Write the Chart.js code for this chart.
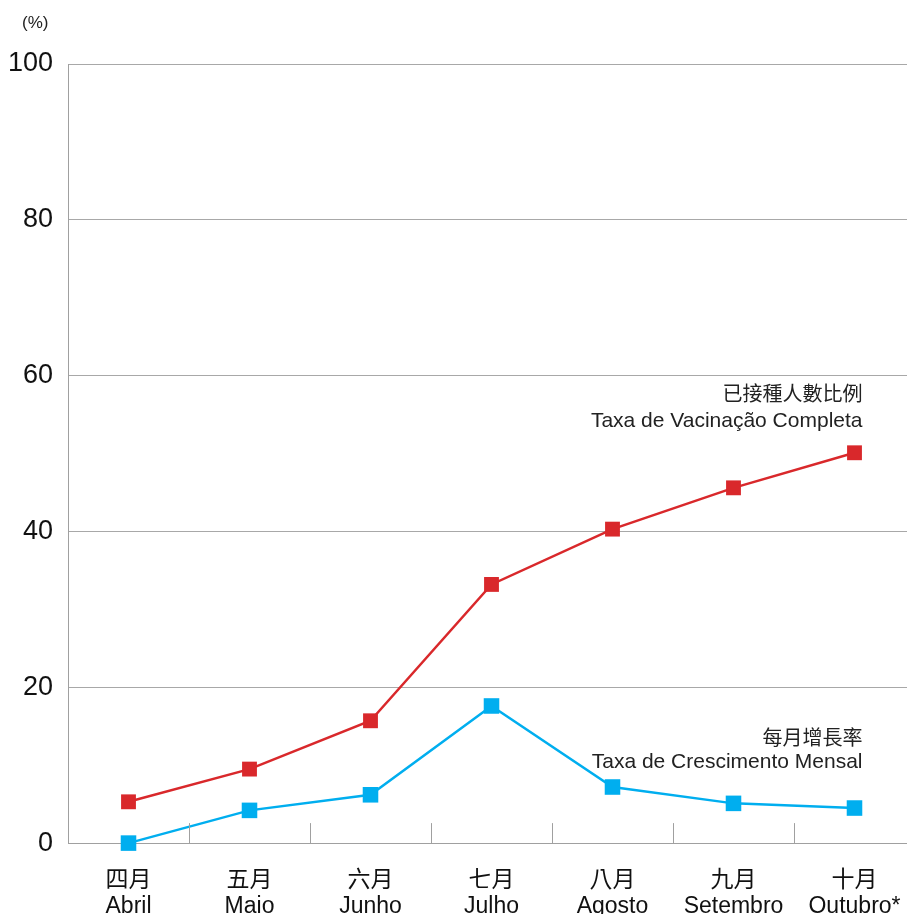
<!DOCTYPE html>
<html>
<head>
<meta charset="utf-8">
<script src="https://cdn.jsdelivr.net/npm/chart.js@4.4.0/dist/chart.umd.min.js"></script>
<style>
  html, body { margin: 0; padding: 0; background: #fff; overflow: hidden; }
  #wrap { width: 926px; height: 936px; position: relative; }
</style>
</head>
<body>
<div id="wrap"><canvas id="vacChart"></canvas></div>
<script>
// month labels (Chinese / Portuguese)
var months = [
  ['四月', 'Abril'],
  ['五月', 'Maio'],
  ['六月', 'Junho'],
  ['七月', 'Julho'],
  ['八月', 'Agosto'],
  ['九月', 'Setembro'],
  ['十月', 'Outubro*']
];
// % fully vaccinated
var fullRate = [5.3, 9.5, 15.7, 33.2, 40.3, 45.6, 50.1];
// monthly growth %
var growthRate = [0, 4.2, 6.2, 17.6, 7.2, 5.1, 4.5];
var yTicks = [0, 20, 40, 60, 80, 100];

var redColor = '#d9282b';
var blueColor = '#00aeef';
var latin = "'Liberation Sans', 'Noto Sans CJK TC', sans-serif";

// short separators between months + series names + unit
var extrasPlugin = {
  id: 'extras',
  afterDraw: function (chart) {
    var ctx = chart.ctx;
    var x = chart.scales.x, y = chart.scales.y;
    var area = chart.chartArea;
    ctx.save();
    ctx.strokeStyle = '#a0a0a0';
    ctx.lineWidth = 1;
    for (var i = 0; i < months.length - 1; i++) {
      var px = Math.round((x.getPixelForValue(i) + x.getPixelForValue(i + 1)) / 2) + 0.5;
      ctx.beginPath();
      ctx.moveTo(px, area.bottom);
      ctx.lineTo(px, area.bottom - 20);
      ctx.stroke();
    }
    // series names, right aligned to last marker
    var last = months.length - 1;
    var rx = x.getPixelForValue(last) + 8;
    ctx.fillStyle = '#222';
    ctx.textAlign = 'right';
    ctx.textBaseline = 'middle';
    ctx.font = "20px 'Noto Sans CJK TC', sans-serif";
    ctx.fillText('已接種人數比例', rx, y.getPixelForValue(fullRate[last]) - 59);
    ctx.fillText('每月增長率', rx, y.getPixelForValue(growthRate[last]) - 71);
    ctx.font = "21px " + latin;
    ctx.fillText('Taxa de Vacinação Completa', rx, y.getPixelForValue(fullRate[last]) - 32);
    ctx.fillText('Taxa de Crescimento Mensal', rx, y.getPixelForValue(growthRate[last]) - 46);
    // unit
    ctx.textAlign = 'left';
    ctx.font = "17px " + latin;
    ctx.fillText('(%)', 22, 23);
    ctx.restore();
  }
};

var ctx = document.getElementById('vacChart').getContext('2d');
var chart = new Chart(ctx, {
  type: 'line',
  data: {
    labels: months,
    datasets: [{
      label: 'Taxa de Vacinação Completa',
      data: fullRate,
      borderColor: redColor,
      backgroundColor: redColor,
      borderWidth: 2.5,
      pointStyle: 'rect',
      pointRadius: 10.5,
      pointHoverRadius: 10.5,
      pointBorderWidth: 0,
      tension: 0,
      clip: false
    }, {
      label: 'Taxa de Crescimento Mensal',
      data: growthRate,
      borderColor: blueColor,
      backgroundColor: blueColor,
      borderWidth: 2.5,
      pointStyle: 'rect',
      pointRadius: 11,
      pointHoverRadius: 11,
      pointBorderWidth: 0,
      tension: 0,
      clip: false
    }]
  },
  options: {
    responsive: true,
    maintainAspectRatio: false,
    animation: false,
    layout: { padding: { top: 64, left: 0, right: 0, bottom: 0 } },
    plugins: {
      legend: { display: false },
      tooltip: { enabled: false }
    },
    scales: {
      x: {
        offset: true,
        grid: { display: false },
        border: { display: true, color: '#a0a0a0', width: 1 },
        ticks: {
          color: '#111',
          font: { family: latin, size: 23, lineHeight: 1.15 },
          padding: 16,
          maxRotation: 0,
          autoSkip: false
        }
      },
      y: {
        min: 0,
        max: 100,
        afterBuildTicks: function (axis) {
          axis.ticks = yTicks.map(function (v) { return { value: v }; });
        },
        afterFit: function (axis) { axis.width = 68; },
        grid: { color: '#a8a8a8', lineWidth: 1, drawTicks: false },
        border: { display: true, color: '#a0a0a0', width: 1 },
        ticks: {
          color: '#111',
          font: { family: "'Liberation Sans Narrow', 'Liberation Sans', sans-serif", size: 27 },
          padding: 15
        }
      }
    }
  },
  plugins: [extrasPlugin]
});
</script>
</body>
</html>
